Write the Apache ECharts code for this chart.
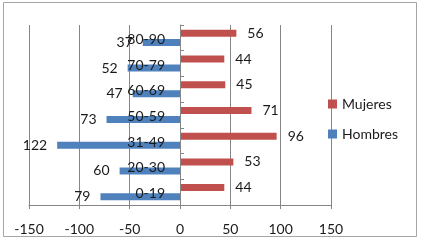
<!DOCTYPE html>
<html><head><meta charset="utf-8">
<script src="https://cdn.jsdelivr.net/npm/echarts@6/dist/echarts.min.js"></script>
<style>html,body{margin:0;padding:0;background:#fff}#c{width:423px;height:241px}</style>
</head><body><div id="c"></div>
<script>
const categories = ['0-19','20-30','31-49','50-59','60-69','70-79','80-90'];
const mujeres = [44, 53, 96, 71, 45, 44, 56];
const hombres = [-79, -60, -122, -73, -47, -52, -37];
const xTicks = {min: -150, max: 150, interval: 50};

const chart = echarts.init(document.getElementById('c'), null, {renderer: 'canvas'});
const font = 'Lato';
chart.setOption({
  animation: false,
  backgroundColor: '#fff',
  textStyle: {fontFamily: font},
  graphic: [{type: 'rect', shape: {x: 3.5, y: 2.5, width: 413, height: 234}, style: {fill: 'none', stroke: '#a6a6a6', lineWidth: 1}}],
  grid: {left: 29, right: 92, top: 25, bottom: 36, containLabel: false, outerBoundsMode: 'none'},
  legend: {
    orient: 'vertical', left: 323, top: 92, itemWidth: 9, itemHeight: 9, itemGap: 16,
    icon: 'rect', textStyle: {fontFamily: font, fontSize: 14, color: '#1a1a1a'},
    data: ['Mujeres', 'Hombres']
  },
  xAxis: {
    type: 'value', min: xTicks.min, max: xTicks.max, interval: xTicks.interval,
    axisLine: {show: true, lineStyle: {color: '#868686'}},
    axisTick: {show: true, length: 4, lineStyle: {color: '#868686'}},
    splitLine: {show: true, lineStyle: {color: '#868686'}},
    axisLabel: {fontFamily: font, fontSize: 14, color: '#1a1a1a', margin: 17}
  },
  yAxis: {
    type: 'category', data: categories, offset: -151, z: 5,
    axisLine: {show: true, onZero: false, lineStyle: {color: '#868686'}},
    axisTick: {show: true, inside: true, length: 4, lineStyle: {color: '#868686'}},
    axisLabel: {fontFamily: font, fontSize: 14, color: '#1a1a1a', margin: 15,
      formatter: v => '{a|' + v + '}',
      rich: {a: {fontFamily: font, fontSize: 14, color: '#1a1a1a', padding: [3, 0, 0, 0]}}}
  },
  series: [
    {name: 'Mujeres', type: 'bar', data: mujeres, barWidth: 7, barGap: '30%',
     itemStyle: {color: '#C0504D'},
     label: {show: true, position: 'right', distance: 11, fontFamily: font, fontSize: 14, color: '#1a1a1a',
             formatter: p => Math.abs(p.value)}},
    {name: 'Hombres', type: 'bar', data: hombres, barWidth: 7, barGap: '30%',
     itemStyle: {color: '#4F81BD'},
     label: {show: true, position: 'left', distance: 10, fontFamily: font, fontSize: 14, color: '#1a1a1a',
             formatter: p => Math.abs(p.value)}}
  ]
});
</script></body></html>
